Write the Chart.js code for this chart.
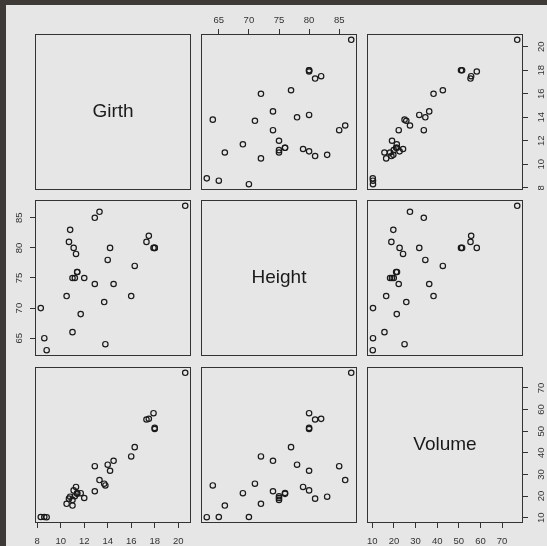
<!DOCTYPE html>
<html>
<head>
<meta charset="utf-8">
<script src="https://cdn.jsdelivr.net/npm/chart.js@4.4.0/dist/chart.umd.min.js"></script>
<style>
body { margin: 0; background: #3e3a37; }
#bg { position: absolute; left: 6px; top: 5px; width: 541px; height: 541px; background: #e6e6e6; }
.cell { position: absolute; }
</style>
</head>
<body>
<div id="bg"></div>
<script>
// trees data
var names = ["Girth", "Height", "Volume"];
var girth = [8.3, 8.6, 8.8, 10.5, 10.7, 10.8, 11.0, 11.0, 11.1, 11.2, 11.3, 11.4, 11.4, 11.7, 12.0, 12.9,
             12.9, 13.3, 13.7, 13.8, 14.0, 14.2, 14.5, 16.0, 16.3, 17.3, 17.5, 17.9, 18.0, 18.0, 20.6];
var height = [70, 65, 63, 72, 81, 83, 66, 75, 80, 75, 79, 76, 76, 69, 75, 74,
              85, 86, 71, 64, 78, 80, 74, 72, 77, 81, 82, 80, 80, 80, 87];
var volume = [10.3, 10.3, 10.2, 16.4, 18.8, 19.7, 15.6, 18.2, 22.6, 19.9, 24.2, 21.0, 21.4, 21.3, 19.1, 22.2,
              33.8, 27.4, 25.7, 24.9, 34.5, 31.7, 36.3, 38.3, 42.6, 55.4, 55.7, 58.3, 51.5, 51.0, 77.0];
var girthTicks = [8, 10, 12, 14, 16, 18, 20];
var heightTicks = [65, 70, 75, 80, 85];
var volumeTicks = [10, 20, 30, 40, 50, 60, 70];

var vars = [girth, height, volume];
var tickSets = [girthTicks, heightTicks, volumeTicks];

var M = 34, S = 156;
var colX = [35, 201, 367], rowY = [34, 200, 367];
var ink = '#1a1a1a';

function range(v) {
    var lo = Math.min.apply(null, v), hi = Math.max.apply(null, v);
    var pad = (hi - lo) * 0.04;
    return [lo - pad, hi + pad];
}

// tick label padding per side
var padFor = { top: 9, bottom: 13, left: 5, right: 8 };

function makeAxis(which, pos, k) {
    var r = range(vars[k]);
    var show = pos !== null;
    return {
        type: 'linear',
        position: pos || (which == 'x' ? 'bottom' : 'left'),
        display: show,
        min: r[0],
        max: r[1],
        afterBuildTicks: function (s) {
            s.ticks = tickSets[k].map(function (v) { return { value: v }; });
        },
        afterFit: function (s) {
            if (!show) return;
            if (which == 'x') s.height = M; else s.width = M;
        },
        grid: { drawOnChartArea: false, drawTicks: true, tickLength: 5, color: '#333', tickWidth: 1 },
        border: { display: false },
        ticks: {
            color: '#333',
            font: { family: 'Liberation Sans, Arial, sans-serif', size: 9.5 },
            padding: show ? padFor[pos] : 0,
            autoSkip: false,
            minRotation: which == 'y' ? 90 : 0,
            maxRotation: which == 'y' ? 90 : 0,
            crossAlign: 'center',
            callback: function (v) { return v; }
        }
    };
}

var framePlugin = {
    id: 'frame',
    afterDraw: function (chart) {
        var ca = chart.chartArea, ctx = chart.ctx;
        ctx.save();
        ctx.strokeStyle = '#333';
        ctx.lineWidth = 1;
        ctx.strokeRect(ca.left + 0.5, ca.top + 0.5, ca.right - ca.left - 1, ca.bottom - ca.top - 1);
        var lab = chart.options.plugins.frame.label;
        if (lab) {
            ctx.fillStyle = '#1a1a1a';
            ctx.font = '19px "Liberation Sans", Arial, sans-serif';
            ctx.textAlign = 'center';
            ctx.textBaseline = 'middle';
            ctx.fillText(lab, (ca.left + ca.right) / 2, (ca.top + ca.bottom) / 2);
        }
        ctx.restore();
    }
};

for (var i = 0; i < 3; i++) {
    for (var j = 0; j < 3; j++) {
        var xPos = null, yPos = null;
        if (i == 0 && j == 1) xPos = 'top';
        if (i == 2 && (j == 0 || j == 2)) xPos = 'bottom';
        if (j == 2 && (i == 0 || i == 2)) yPos = 'right';
        if (j == 0 && i == 1) yPos = 'left';

        var div = document.createElement('div');
        div.className = 'cell';
        div.style.left = (colX[j] - M) + 'px';
        div.style.top = (rowY[i] - M) + 'px';
        var cv = document.createElement('canvas');
        cv.width = S + 2 * M;
        cv.height = S + 2 * M;
        div.appendChild(cv);
        document.body.appendChild(div);

        var pts = [];
        if (i != j) {
            for (var n = 0; n < girth.length; n++) pts.push({ x: vars[j][n], y: vars[i][n] });
        }

        new Chart(cv, {
            type: 'scatter',
            data: {
                datasets: [{
                    data: pts,
                    pointStyle: 'circle',
                    pointRadius: 2.7,
                    borderWidth: 1.2,
                    borderColor: ink,
                    backgroundColor: 'rgba(0,0,0,0)'
                }]
            },
            options: {
                responsive: false,
                animation: false,
                devicePixelRatio: 1,
                layout: {
                    padding: {
                        left: yPos == 'left' ? 0 : M,
                        right: yPos == 'right' ? 0 : M,
                        top: xPos == 'top' ? 0 : M,
                        bottom: xPos == 'bottom' ? 0 : M
                    }
                },
                scales: {
                    x: makeAxis('x', xPos, j),
                    y: makeAxis('y', yPos, i)
                },
                plugins: {
                    legend: { display: false },
                    tooltip: { enabled: false },
                    frame: { label: i == j ? names[i] : null }
                }
            },
            plugins: [framePlugin]
        });
    }
}
</script>
</body>
</html>
